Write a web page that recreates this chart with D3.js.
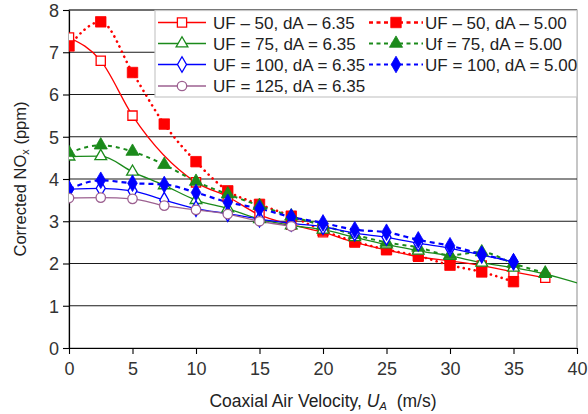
<!DOCTYPE html>
<html>
<head>
<meta charset="utf-8">
<script src="https://cdn.jsdelivr.net/npm/d3@7"></script>
<style>
  html, body { margin: 0; padding: 0; background: #fff; }
  svg { display: block; font-family: "Liberation Sans", Arial, sans-serif; }
</style>
</head>
<body>
<svg id="chart" width="588" height="414"></svg>
<script>
// Coaxial air velocity stations (m/s)
const velocity = [0, 2.5, 5, 7.5, 10, 12.5, 15, 17.5, 20, 22.5, 25, 27.5, 30, 32.5, 35, 37.5, 40, 42.5];

// Corrected NOx (ppm) for each fuel velocity / nozzle diameter case (null = not measured)
const uf50_d635  = [7.35, 6.8, 5.5, null, 3.92, 3.58, 3.15, 2.92, 2.74, 2.5, 2.32, 2.16, 2.06, 1.95, 1.8, 1.66];
const uf50_d500  = [7.15, 7.72, 6.52, 5.3, 4.41, 3.72, 3.4, 3.12, 2.78, 2.52, 2.33, 2.18, 1.96, 1.8, 1.57];
const uf75_d635  = [4.53, 4.54, 4.17, 3.85, 3.5, 3.3, 3.05, 2.9, 2.8, 2.62, 2.45, 2.3, 2.18, 2.02, 1.9, 1.75, null, 1.3];
const uf75_d500  = [4.62, 4.8, 4.65, 4.34, 3.94, 3.64, 3.37, 3.12, 2.9, 2.68, 2.5, 2.38, 2.2, 2.27, 2.0, 1.77];
const uf100_d635 = [3.76, 3.78, 3.72, 3.5, 3.3, 3.18, 3.05, 2.95, 2.87, 2.72, 2.62, 2.48, 2.36, 2.2, 2.04];
const uf100_d500 = [3.76, 3.97, 3.9, 3.87, 3.68, 3.45, 3.3, 3.1, 2.96, 2.8, 2.74, 2.56, 2.42, 2.22, 2.04];
const uf125_d635 = [3.55, 3.56, 3.53, 3.37, 3.27, 3.17, 3.0, 2.88];

const seriesNames = [
  "UF \u2013 50, dA \u2013 6.35", "UF \u2013 50, dA \u2013 5.00",
  "UF = 75, dA = 6.35",           "Uf = 75, dA = 5.00",
  "UF = 100, dA = 6.35",          "UF = 100, dA = 5.00",
  "UF = 125, dA = 6.35"
];
const xTicks = [0, 5, 10, 15, 20, 25, 30, 35, 40];
const yTicks = [0, 1, 2, 3, 4, 5, 6, 7, 8];

const RED = "#ff0000", GREEN = "#1b8a1b", BLUE = "#0000ff", MAUVE = "#9c6090";

const series = [
  { name: seriesNames[0], values: uf50_d635,  color: RED,   symbol: d3.symbolSquare,   size: 85,  open: true,  dash: null,      width: 1.3 },
  { name: seriesNames[1], values: uf50_d500,  color: RED,   symbol: d3.symbolSquare,   size: 110, open: false, dash: "0.1 5.5", width: 2.6 },
  { name: seriesNames[2], values: uf75_d635,  color: GREEN, symbol: d3.symbolTriangle, size: 60,  open: true,  dash: null,      width: 1.3 },
  { name: seriesNames[3], values: uf75_d500,  color: GREEN, symbol: d3.symbolTriangle, size: 75,  open: false, dash: "4 4",     width: 2.0 },
  { name: seriesNames[4], values: uf100_d635, color: BLUE,  symbol: d3.symbolDiamond,  size: 70,  open: true,  dash: null,      width: 1.3 },
  { name: seriesNames[5], values: uf100_d500, color: BLUE,  symbol: d3.symbolDiamond,  size: 80,  open: false, dash: "5 4",     width: 2.2 },
  { name: seriesNames[6], values: uf125_d635, color: MAUVE, symbol: d3.symbolCircle,   size: 70,  open: true,  dash: null,      width: 1.3 }
];

const svg = d3.select("#chart");
const plot = { left: 69, right: 577, top: 10, bottom: 348 };

const x = d3.scaleLinear().domain([0, 40]).range([plot.left, plot.right]);
const y = d3.scaleLinear().domain([0, 8]).range([plot.bottom, plot.top]);

// plot area frame (light grey on top/right)
svg.append("rect")
  .attr("x", plot.left).attr("y", plot.top)
  .attr("width", plot.right - plot.left).attr("height", plot.bottom - plot.top)
  .attr("fill", "#fff").attr("stroke", "#a0a0a0").attr("stroke-width", 1.2);

// horizontal gridlines
svg.append("g")
  .selectAll("line")
  .data(yTicks.filter(d => d > 0))
  .join("line")
  .attr("x1", plot.left).attr("x2", plot.right)
  .attr("y1", d => y(d)).attr("y2", d => y(d))
  .attr("stroke", "#1a1a1a").attr("stroke-width", 1.1);

// axes
const xAxis = svg.append("g")
  .attr("transform", `translate(0,${plot.bottom})`)
  .call(d3.axisBottom(x).tickValues(xTicks).tickSize(6).tickPadding(8).tickSizeOuter(0));
const yAxis = svg.append("g")
  .attr("transform", `translate(${plot.left},0)`)
  .call(d3.axisLeft(y).tickValues(yTicks).tickSize(6).tickPadding(4).tickSizeOuter(0));

[xAxis, yAxis].forEach(g => {
  g.select(".domain").attr("stroke", "#000").attr("stroke-width", 1.2);
  g.selectAll(".tick line").attr("stroke", "#000").attr("stroke-width", 1.1);
  g.selectAll(".tick text")
    .attr("font-family", "'Liberation Sans', Arial, sans-serif")
    .attr("font-size", 18).attr("fill", "#333");
});
yAxis.selectAll(".tick text").attr("dy", "0.36em");

// series lines and markers, clipped to the plot area
const defs = svg.append("defs");
defs.append("clipPath").attr("id", "plot-clip")
  .append("rect")
  .attr("x", plot.left).attr("y", plot.top - 8)
  .attr("width", plot.right - plot.left).attr("height", plot.bottom - plot.top + 8);

const line = d3.line()
  .x(d => x(d[0])).y(d => y(d[1]))
  .curve(d3.curveMonotoneX);

const seriesLayer = svg.append("g").attr("clip-path", "url(#plot-clip)");

series.forEach(s => {
  const pts = s.values.map((v, i) => [velocity[i], v]).filter(p => p[1] != null);
  seriesLayer.append("path")
    .datum(pts)
    .attr("d", line)
    .attr("fill", "none")
    .attr("stroke", s.color)
    .attr("stroke-width", s.width)
    .attr("stroke-linecap", s.dash && s.dash.startsWith("0.1") ? "round" : "butt")
    .attr("stroke-dasharray", s.dash);
});

series.forEach(s => {
  const pts = s.values.map((v, i) => [velocity[i], v]).filter(p => p[1] != null && p[0] <= 40);
  seriesLayer.append("g")
    .selectAll("path")
    .data(pts)
    .join("path")
    .attr("transform", d => `translate(${x(d[0])},${y(d[1])})`)
    .attr("d", d3.symbol().type(s.symbol).size(s.size))
    .attr("fill", s.open ? "#fff" : s.color)
    .attr("stroke", s.color)
    .attr("stroke-width", s.open ? 1.3 : 0.8);
});

// legend
const legend = svg.append("g");
legend.append("rect")
  .attr("x", 155).attr("y", 10.5).attr("width", 422).attr("height", 86.5)
  .attr("fill", "#fff").attr("stroke", "#c8c8c8").attr("stroke-width", 1.2);

const colX = [[158, 206, 213], [369, 423, 425]];
const rowY = [22.5, 43.5, 64.5, 86];

series.forEach((s, i) => {
  const col = i % 2, row = Math.floor(i / 2);
  const [x1, x2, tx] = colX[col];
  const cy = rowY[row];
  const g = legend.append("g");
  g.append("line")
    .attr("x1", x1).attr("x2", x2).attr("y1", cy).attr("y2", cy)
    .attr("stroke", s.color).attr("stroke-width", s.width)
    .attr("stroke-dasharray", s.dash ? "4 3.5" : null);
  g.append("path")
    .attr("transform", `translate(${(x1 + x2) / 2},${cy})`)
    .attr("d", d3.symbol().type(s.symbol).size(s.size))
    .attr("fill", s.open ? "#fff" : s.color)
    .attr("stroke", s.color)
    .attr("stroke-width", s.open ? 1.3 : 0.8);
  g.append("text")
    .attr("x", tx).attr("y", cy + 6)
    .attr("font-size", 17).attr("fill", "#222")
    .text(s.name);
});

// axis titles
const xTitle = svg.append("text")
  .attr("x", (plot.left + plot.right) / 2).attr("y", 407)
  .attr("text-anchor", "middle").attr("font-size", 17.5).attr("fill", "#222");
xTitle.append("tspan").text("Coaxial Air Velocity, ");
xTitle.append("tspan").attr("font-style", "italic").text("U");
xTitle.append("tspan").attr("font-style", "italic").attr("font-size", 11.5).attr("dy", 3).text("A");
xTitle.append("tspan").attr("dy", -3).text("\u00a0 (m/s)");

const yTitle = svg.append("text")
  .attr("transform", `translate(26,${(plot.top + plot.bottom) / 2}) rotate(-90)`)
  .attr("text-anchor", "middle").attr("font-size", 16.5).attr("fill", "#222");
yTitle.append("tspan").text("Corrected NO");
yTitle.append("tspan").attr("font-size", 11).attr("dy", 3).text("x");
yTitle.append("tspan").attr("dy", -3).text(" (ppm)");
</script>
</body>
</html>
